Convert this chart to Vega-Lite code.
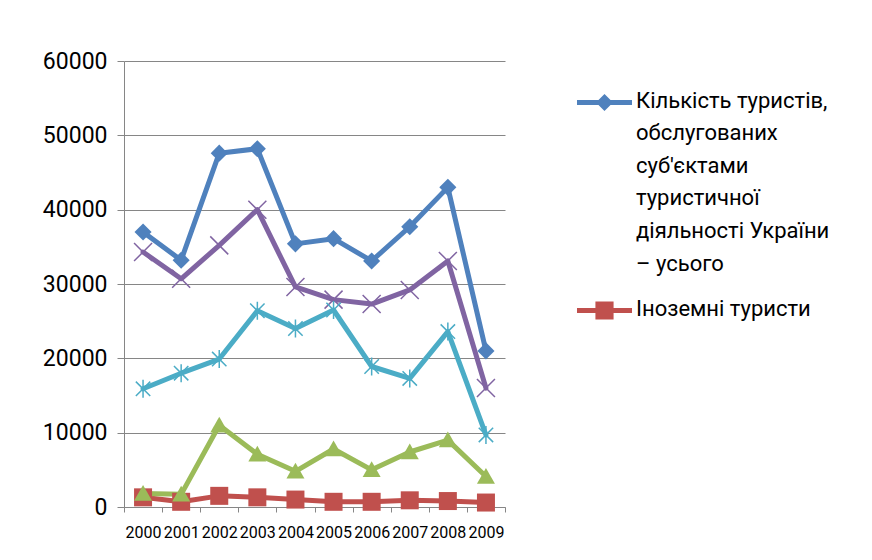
{
  "$schema": "https://vega.github.io/schema/vega-lite/v6.json",
  "autosize": {"type": "none"},
  "width": 381,
  "height": 446,
  "padding": {"left": 124, "top": 61, "right": 367, "bottom": 53},
  "background": "white",
  "config": {
    "view": {"stroke": null},
    "font": "Roboto",
    "axis": {"labelColor": "#000000", "labelFont": "Roboto", "domainColor": "#868686", "tickColor": "#868686", "gridColor": "#868686", "title": null}
  },
  "data": {
    "values": [
      {"year": "2000", "series": "S1", "value": 37000},
      {"year": "2001", "series": "S1", "value": 33200},
      {"year": "2002", "series": "S1", "value": 47600},
      {"year": "2003", "series": "S1", "value": 48200},
      {"year": "2004", "series": "S1", "value": 35400},
      {"year": "2005", "series": "S1", "value": 36100},
      {"year": "2006", "series": "S1", "value": 33100},
      {"year": "2007", "series": "S1", "value": 37700},
      {"year": "2008", "series": "S1", "value": 43000},
      {"year": "2009", "series": "S1", "value": 21000},
      {"year": "2000", "series": "Іноземні туристи", "value": 1300},
      {"year": "2001", "series": "Іноземні туристи", "value": 700},
      {"year": "2002", "series": "Іноземні туристи", "value": 1500},
      {"year": "2003", "series": "Іноземні туристи", "value": 1300},
      {"year": "2004", "series": "Іноземні туристи", "value": 1000},
      {"year": "2005", "series": "Іноземні туристи", "value": 700},
      {"year": "2006", "series": "Іноземні туристи", "value": 700},
      {"year": "2007", "series": "Іноземні туристи", "value": 900},
      {"year": "2008", "series": "Іноземні туристи", "value": 800},
      {"year": "2009", "series": "Іноземні туристи", "value": 600},
      {"year": "2000", "series": "Ряд 3", "value": 1800},
      {"year": "2001", "series": "Ряд 3", "value": 1700},
      {"year": "2002", "series": "Ряд 3", "value": 11000},
      {"year": "2003", "series": "Ряд 3", "value": 7100},
      {"year": "2004", "series": "Ряд 3", "value": 4800},
      {"year": "2005", "series": "Ряд 3", "value": 7800},
      {"year": "2006", "series": "Ряд 3", "value": 5000},
      {"year": "2007", "series": "Ряд 3", "value": 7400},
      {"year": "2008", "series": "Ряд 3", "value": 9000},
      {"year": "2009", "series": "Ряд 3", "value": 4100},
      {"year": "2000", "series": "Ряд 4", "value": 34300},
      {"year": "2001", "series": "Ряд 4", "value": 30700},
      {"year": "2002", "series": "Ряд 4", "value": 35200},
      {"year": "2003", "series": "Ряд 4", "value": 40000},
      {"year": "2004", "series": "Ряд 4", "value": 29600},
      {"year": "2005", "series": "Ряд 4", "value": 27900},
      {"year": "2006", "series": "Ряд 4", "value": 27300},
      {"year": "2007", "series": "Ряд 4", "value": 29200},
      {"year": "2008", "series": "Ряд 4", "value": 33100},
      {"year": "2009", "series": "Ряд 4", "value": 16000},
      {"year": "2000", "series": "Ряд 5", "value": 15900},
      {"year": "2001", "series": "Ряд 5", "value": 18000},
      {"year": "2002", "series": "Ряд 5", "value": 19900},
      {"year": "2003", "series": "Ряд 5", "value": 26400},
      {"year": "2004", "series": "Ряд 5", "value": 24000},
      {"year": "2005", "series": "Ряд 5", "value": 26500},
      {"year": "2006", "series": "Ряд 5", "value": 18900},
      {"year": "2007", "series": "Ряд 5", "value": 17300},
      {"year": "2008", "series": "Ряд 5", "value": 23600},
      {"year": "2009", "series": "Ряд 5", "value": 9700}
    ]
  },
  "encoding": {
    "x": {
      "field": "year", "type": "nominal",
      "scale": {"type": "band", "paddingInner": 0, "paddingOuter": 0},
      "axis": {"labelAngle": 0, "labelFontSize": 16, "tickBand": "extent", "tickSize": 5, "labelPadding": 12, "grid": false}
    },
    "y": {
      "field": "value", "type": "quantitative",
      "scale": {"domain": [0, 60000], "nice": false},
      "axis": {"values": [0, 10000, 20000, 30000, 40000, 50000, 60000], "format": "d", "labelFontSize": 23, "tickSize": 7, "labelPadding": 10, "grid": true}
    },
    "color": {
      "field": "series", "type": "nominal",
      "scale": {"domain": ["S1", "Іноземні туристи", "Ряд 3", "Ряд 4", "Ряд 5"], "range": ["#4F81BD", "#C0504D", "#9BBB59", "#8064A2", "#4BACC6"]}
    }
  },
  "resolve": {"scale": {"shape": "independent"}, "legend": {"color": "independent", "shape": "independent"}},
  "layer": [
    {
      "mark": {"type": "line", "strokeWidth": 5, "strokeJoin": "round", "strokeCap": "round"},
      "encoding": {"color": {"field": "series", "type": "nominal", "legend": null}}
    },
    {
      "transform": [{"filter": {"field": "series", "oneOf": ["S1", "Іноземні туристи", "Ряд 3"]}}],
      "mark": {"type": "point", "filled": true, "opacity": 1, "size": 324},
      "encoding": {
        "color": {"field": "series", "type": "nominal", "legend": null},
        "shape": {"field": "series", "type": "nominal", "legend": null,
          "scale": {"domain": ["S1", "Іноземні туристи", "Ряд 3", "Ряд 4", "Ряд 5"],
            "range": ["M0,-0.95L0.95,0L0,0.95L-0.95,0Z", "M-1,-1H1V1H-1Z", "M0,-0.95L1,0.8H-1Z", "M-1,-1L1,1M-1,1L1,-1", "M-0.8,-0.8L0.8,0.8M-0.8,0.8L0.8,-0.8M0,-1L0,1"]}}
      }
    },
    {
      "transform": [{"filter": {"field": "series", "oneOf": ["Ряд 4", "Ряд 5"]}}],
      "mark": {"type": "point", "filled": false, "opacity": 1, "size": 324, "strokeWidth": 1.5},
      "encoding": {
        "color": {"field": "series", "type": "nominal", "legend": null},
        "shape": {"field": "series", "type": "nominal", "legend": null,
          "scale": {"domain": ["S1", "Іноземні туристи", "Ряд 3", "Ряд 4", "Ряд 5"],
            "range": ["M0,-0.95L0.95,0L0,0.95L-0.95,0Z", "M-1,-1H1V1H-1Z", "M0,-0.95L1,0.8H-1Z", "M-1,-1L1,1M-1,1L1,-1", "M-0.8,-0.8L0.8,0.8M-0.8,0.8L0.8,-0.8M0,-1L0,1"]}}
      }
    },
    {
      "mark": {"type": "point", "filled": true, "opacity": 0, "size": 3025},
      "encoding": {
        "color": {"field": "series", "type": "nominal",
          "legend": {"title": null, "values": ["S1", "Іноземні туристи"], "orient": "none", "legendX": 453, "legendY": 14, "padding": 0,
            "symbolSize": 3025, "symbolOpacity": 1, "symbolStrokeWidth": 0, "labelFontSize": 22, "labelFont": "Roboto", "labelColor": "#000000", "labelLimit": 320, "labelOffset": 4, "rowPadding": 8, "labelBaseline": "top",
            "encode": {"labels": {"update": {"lineHeight": {"value": 32.6}, "dy": {"value": -12}}}},
            "labelExpr": "datum.value == 'S1' ? ['Кількість туристів,', 'обслугованих', 'суб\\'єктами', 'туристичної', 'діяльності України', '– усього'] : datum.label"}},
        "shape": {"field": "series", "type": "nominal",
          "scale": {"domain": ["S1", "Іноземні туристи", "Ряд 3", "Ряд 4", "Ряд 5"],
            "range": ["M-1,-0.09H1V0.09H-1Z M0,-0.31L0.31,0L0,0.31L-0.31,0Z", "M-1,-0.09H1V0.09H-1Z M-0.33,-0.33H0.33V0.33H-0.33Z", "M-1,-0.09H1V0.09H-1Z", "M-1,-0.09H1V0.09H-1Z", "M-1,-0.09H1V0.09H-1Z"]},
          "legend": {"title": null, "values": ["S1", "Іноземні туристи"], "orient": "none", "legendX": 453, "legendY": 14, "padding": 0,
            "symbolSize": 3025, "symbolOpacity": 1, "symbolStrokeWidth": 0, "labelFontSize": 22, "labelFont": "Roboto", "labelColor": "#000000", "labelLimit": 320, "labelOffset": 4, "rowPadding": 8, "labelBaseline": "top",
            "encode": {"labels": {"update": {"lineHeight": {"value": 32.6}, "dy": {"value": -12}}}},
            "labelExpr": "datum.value == 'S1' ? ['Кількість туристів,', 'обслугованих', 'суб\\'єктами', 'туристичної', 'діяльності України', '– усього'] : datum.label"}}
      }
    }
  ]
}
